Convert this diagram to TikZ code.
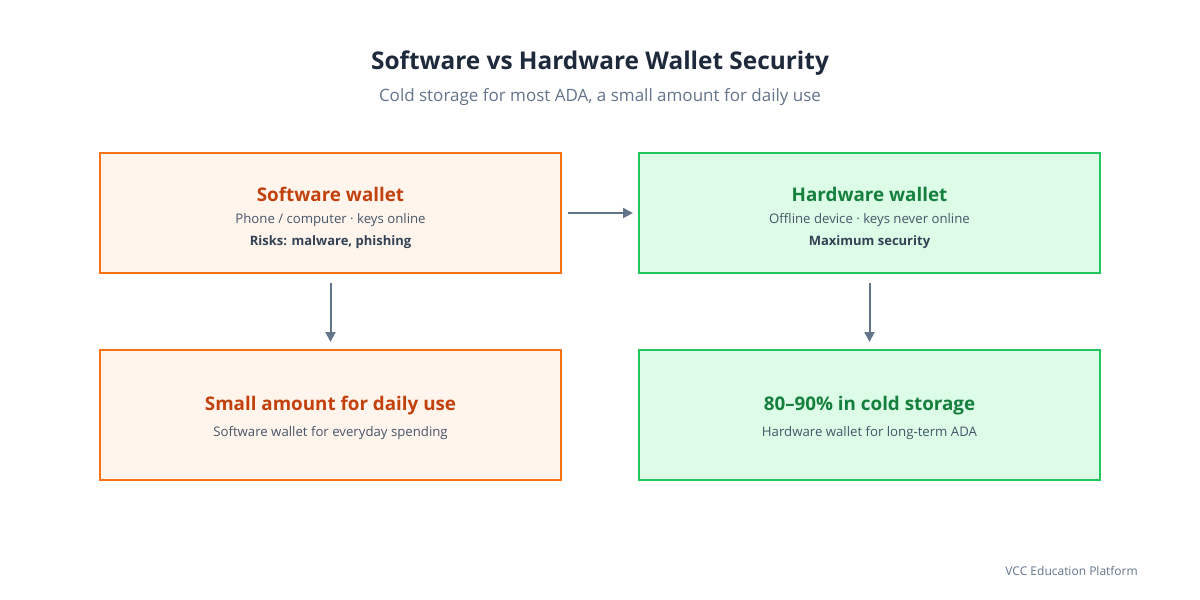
\documentclass[tikz,border=0pt]{standalone}
\usepackage{fontspec}
\setmainfont{Open Sans}
\usepackage{xcolor}
\usetikzlibrary{arrows.meta,positioning}

\definecolor{swline}{HTML}{F97316}
\definecolor{swfill}{HTML}{FFF5EC}
\definecolor{swtext}{HTML}{C2410C}
\definecolor{hwline}{HTML}{22C55E}
\definecolor{hwfill}{HTML}{DCFCE7}
\definecolor{hwtext}{HTML}{15803D}
\definecolor{headtext}{HTML}{1E293B}
\definecolor{subtext}{HTML}{64748B}
\definecolor{bodytext}{HTML}{475569}
\definecolor{strongtext}{HTML}{334155}

\tikzset{
  walletbox/.style={line width=2pt, minimum width=461pt, minimum height=120pt, inner sep=0pt},
  swbox/.style={walletbox, draw=swline, fill=swfill},
  hwbox/.style={walletbox, draw=hwline, fill=hwfill},
  boxhead/.style={font=\fontsize{18.8}{22}\selectfont\bfseries, inner sep=0pt},
  boxline/.style={font=\fontsize{13.2}{16}\selectfont, text=bodytext, inner sep=0pt},
  boxstrong/.style={font=\fontsize{13}{16}\selectfont\bfseries, text=strongtext, inner sep=0pt},
  flow/.style={draw=subtext, line width=2pt, -{Triangle[length=10pt,width=10pt]}}
}

\begin{document}
\begin{tikzpicture}[x=1pt,y=-1pt]
  \useasboundingbox[fill=white] (0,0) rectangle (1200,600);

  % heading
  \node[font=\fontsize{24.4}{29}\selectfont\bfseries, text=headtext] (title) at (600,63) {Software vs Hardware Wallet Security};
  \node[font=\fontsize{17}{20}\selectfont, text=subtext] (subtitle) at (600,97) {Cold storage for most ADA, a small amount for daily use};

  % top row
  \node[swbox] (sw) at (330.5,213) {};
  \node[hwbox] (hw) at (869.5,213) {};
  \node[boxhead, text=swtext] (sw-head) at (330.5,194) {Software wallet};
  \node[boxline] (sw-line) at (330.5,220) {Phone / computer · keys online};
  \node[boxstrong] (sw-risk) at (330.5,242) {Risks: malware, phishing};
  \node[boxhead, text=hwtext] (hw-head) at (869.5,194) {Hardware wallet};
  \node[boxline] (hw-line) at (869.5,220) {Offline device · keys never online};
  \node[boxstrong] (hw-max) at (869.5,242) {Maximum security};

  % bottom row
  \node[swbox, minimum height=130pt] (daily) at (330.5,415) {};
  \node[hwbox, minimum height=130pt] (cold) at (869.5,415) {};
  \node[boxhead, text=swtext] (daily-head) at (330.5,406) {Small amount for daily use};
  \node[boxline] (daily-line) at (330.5,433) {Software wallet for everyday spending};
  \node[boxhead, text=hwtext] (cold-head) at (869.5,406) {80–90\% in cold storage};
  \node[boxline] (cold-line) at (869.5,433) {Hardware wallet for long-term ADA};

  % arrows
  \draw[flow, shorten <=6pt, shorten >=5pt] (sw) -- (hw);
  \draw[flow, shorten <=9pt, shorten >=7pt] (sw) -- (daily);
  \draw[flow, shorten <=9pt, shorten >=7pt] (hw) -- (cold);

  \node[anchor=east, inner sep=0pt, font=\fontsize{12}{14}\selectfont, text=subtext] (footer) at (1138,571) {VCC Education Platform};
\end{tikzpicture}
\end{document}
